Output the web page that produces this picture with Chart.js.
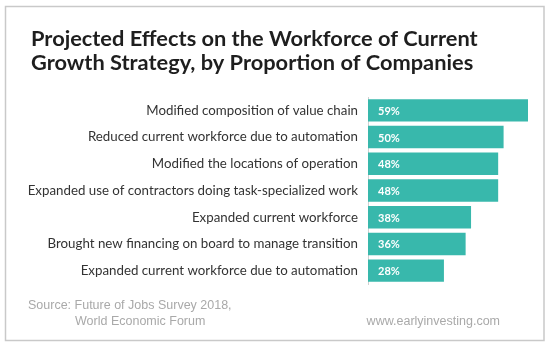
<!DOCTYPE html>
<html>
<head>
<meta charset="utf-8">
<script src="https://cdn.jsdelivr.net/npm/chart.js@4"></script>
<style>
    html, body { margin: 0; padding: 0; background: #fff; }
    #wrap { width: 550px; height: 347px; }
</style>
</head>
<body>
<div id="wrap"><canvas id="effectsChart" width="550" height="347"></canvas></div>
<script>
const categories = [
    'Modified composition of value chain',
    'Reduced current workforce due to automation',
    'Modified the locations of operation',
    'Expanded use of contractors doing task-specialized work',
    'Expanded current workforce',
    'Brought new financing on board to manage transition',
    'Expanded current workforce due to automation'
];
const shares = [59, 50, 48, 48, 38, 36, 28];
const titleLines = [
    'Projected Effects on the Workforce of Current',
    'Growth Strategy, by Proportion of Companies'
];
const sourceLines = ['Source: Future of Jobs Survey 2018,', 'World Economic Forum'];
const siteLabel = 'www.earlyinvesting.com';

// frame, title, footer and the white % labels inside the bars
const decorations = {
    id: 'decorations',
    beforeDraw(chart) {
        const c = chart.ctx;
        c.save();
        c.fillStyle = '#fff';
        c.fillRect(0, 0, chart.width, chart.height);
        c.strokeStyle = '#c9c9c9';
        c.lineWidth = 1.5;
        c.strokeRect(5.5, 6.5, 538.5, 334);
        c.restore();
    },
    afterDraw(chart) {
        const c = chart.ctx;
        c.save();
        c.fillStyle = '#1e1e1e';
        c.font = 'bold 21.8px "Lato", sans-serif';
        c.textBaseline = 'alphabetic';
        c.textAlign = 'left';
        c.fillText(titleLines[0], 31, 46);
        c.fillText(titleLines[1], 31, 70);

        c.fillStyle = '#a9a9a9';
        c.font = '12.5px "Liberation Sans", sans-serif';
        c.fillText(sourceLines[0], 28, 309);
        c.fillText(sourceLines[1], 75, 325);
        c.textAlign = 'right';
        c.fillText(siteLabel, 500, 325);

        const meta = chart.getDatasetMeta(0);
        c.fillStyle = '#fff';
        c.font = 'bold 11px "Lato", sans-serif';
        c.textAlign = 'left';
        c.textBaseline = 'middle';
        meta.data.forEach((bar, i) => {
            c.fillText(shares[i] + '%', bar.base + 10, bar.y + 1);
        });
        c.restore();
    }
};

const ctx = document.getElementById('effectsChart').getContext('2d');
const effectsChart = new Chart(ctx, {
    type: 'bar',
    data: {
        labels: categories,
        datasets: [{
            data: shares,
            backgroundColor: '#38b8ac',
            borderWidth: 0,
            categoryPercentage: 0.84,
            barPercentage: 1.0
        }]
    },
    options: {
        indexAxis: 'y',
        responsive: false,
        animation: false,
        layout: {
            padding: { left: 10, right: 22, top: 97, bottom: 63 }
        },
        plugins: {
            legend: { display: false },
            title: { display: false },
            tooltip: { enabled: false }
        },
        scales: {
            x: {
                display: false,
                min: 0,
                max: 59
            },
            y: {
                afterFit(scale) { scale.width = 358; },
                grid: { display: false, drawTicks: false },
                border: { display: true, color: '#d0d0d0', width: 1 },
                ticks: {
                    color: '#333',
                    padding: 10,
                    font: { family: 'Lato', size: 13.3 }
                }
            }
        }
    },
    plugins: [decorations]
});
</script>
</body>
</html>
